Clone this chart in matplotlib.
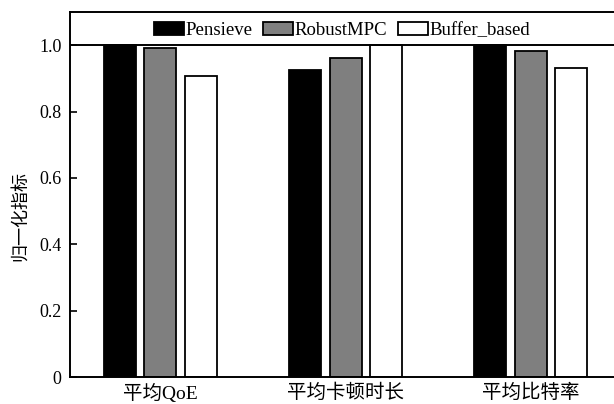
import matplotlib.pyplot as plt
import numpy as np
from matplotlib.ticker import FixedLocator

plt.rcParams['font.family'] = ['Liberation Serif', 'Noto Sans CJK SC']

categories = ["平均QoE", "平均卡顿时长", "平均比特率"]
series_names = ["Pensieve", "RobustMPC", "Buffer_based"]
pensieve = [1.0, 0.925, 1.0]
robust_mpc = [0.991, 0.96, 0.983]
buffer_based = [0.907, 1.0, 0.932]
yticks = [0, 0.2, 0.4, 0.6, 0.8, 1.0]
ytick_labels = ["0", "0.2", "0.4", "0.6", "0.8", "1.0"]

colors = ["black", "#7f7f7f", "white"]
x = np.arange(len(categories))
step = 0.217
width = 0.173

fig = plt.figure(figsize=(6.14, 4.04), dpi=100)
ax = fig.add_axes([0.114, 0.0668, 0.886, 0.9035])

for i, (name, vals) in enumerate(zip(series_names, [pensieve, robust_mpc, buffer_based])):
    ax.bar(x + (i - 1) * step, vals, width, color=colors[i], edgecolor="black",
           linewidth=1.3, label=name, zorder=2)

ax.axhline(1.0, color="black", lw=1.4, zorder=3)

ax.set_xlim(-0.489, 2.451)
ax.set_ylim(0, 1.1)
ax.set_xticks(x)
ax.set_xticklabels(categories, fontsize=14)
ax.tick_params(axis="x", length=0, pad=5)
ax.yaxis.set_major_locator(FixedLocator(yticks))
ax.set_yticklabels(ytick_labels, fontsize=13)
ax.tick_params(axis="y", direction="in", length=5, width=1.2, pad=6)
ax.set_ylabel("归一化指标", fontsize=13)
ax.yaxis.set_label_coords(-0.075, 0.44)

for side in ["left", "bottom", "top"]:
    ax.spines[side].set_linewidth(1.4)
ax.spines["right"].set_visible(False)

ax.legend(loc="center", bbox_to_anchor=(0.5, 1.045 / 1.1), ncol=3, frameon=False,
          fontsize=13.5, handlelength=1.6, handleheight=0.75, handletextpad=0.1,
          columnspacing=0.55, borderaxespad=0)

fig.savefig("out.png", dpi=100)
